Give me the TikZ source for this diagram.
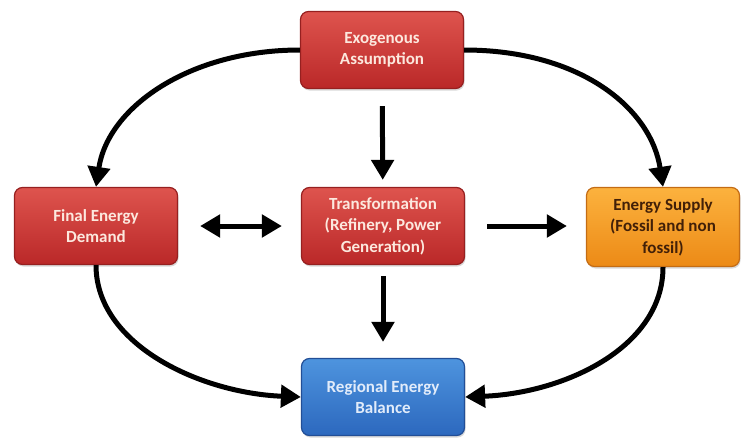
\documentclass[tikz,border=0pt]{standalone}
\usepackage{fontspec}
\setmainfont{Carlito}
\usetikzlibrary{arrows.meta,shadows}

\definecolor{redtop}{RGB}{222,84,78}
\definecolor{redbot}{RGB}{186,40,40}
\definecolor{redline}{RGB}{150,32,32}
\definecolor{redtext}{RGB}{252,232,222}
\definecolor{orgtop}{RGB}{252,178,62}
\definecolor{orgbot}{RGB}{236,138,22}
\definecolor{orgline}{RGB}{196,108,20}
\definecolor{orgtext}{RGB}{66,32,8}
\definecolor{blutop}{RGB}{78,148,222}
\definecolor{blubot}{RGB}{44,104,190}
\definecolor{bluline}{RGB}{34,78,150}
\definecolor{blutext}{RGB}{226,236,250}

\tikzset{
  box/.style={rounded corners=8pt, minimum width=163pt, minimum height=77pt,
    align=center, line width=1.2pt, inner sep=2pt,
    font=\fontsize{17}{21.5}\selectfont\bfseries,
    drop shadow={opacity=0.3, shadow xshift=1pt, shadow yshift=-2pt}},
  redbox/.style={box, draw=redline, top color=redtop, bottom color=redbot, text=redtext},
  orgbox/.style={box, draw=orgline, top color=orgtop, bottom color=orgbot, text=orgtext},
  blubox/.style={box, draw=bluline, top color=blutop, bottom color=blubot, text=blutext},
  flow/.style={line width=5pt, -{Triangle[length=20pt,width=22pt]}},
  twoway/.style={line width=5pt, {Triangle[length=20pt,width=22pt]}-{Triangle[length=20pt,width=22pt]}}
}

\begin{document}
\begin{tikzpicture}[x=1pt,y=-1pt]
\useasboundingbox (0,0) rectangle (741,439);

% boxes
\node[redbox] (exo) at (382,50) {Exogenous\\Assumption};
\node[redbox] (dem) at (96,226) {Final Energy\\Demand};
\node[redbox] (tra) at (383,226) {Transformation\\(Refinery, Power\\Generation)};
\node[orgbox, minimum width=153pt, minimum height=79pt] (sup) at (663,227) {Energy Supply\\(Fossil and non\\fossil)};
\node[blubox] (bal) at (383,397) {Regional Energy\\Balance};

% straight connectors
\draw[flow, shorten <=17pt, shorten >=7pt] (exo) -- (tra);
\draw[flow, shorten <=11pt, shorten >=16pt] (tra) -- (bal);
\draw[twoway, shorten <=22pt, shorten >=19pt] (dem.east) -- (tra.west);
\draw[flow, shorten <=22pt, shorten >=19pt] (tra.east) -- (tra.east -| sup.west);

% curved connectors
\draw[flow] (exo.west) .. controls +(-110,0) and +(12,-80) .. (dem.north);
\draw[flow] (exo.east) .. controls +(117,0) and +(-12,-78) .. (sup.north);
\draw[flow] (dem.south) .. controls +(0,80) and +(-100,-4) .. (bal.west);
\draw[flow] (sup.south) .. controls +(0,80) and +(100,-4) .. (bal.east);
\end{tikzpicture}
\end{document}
